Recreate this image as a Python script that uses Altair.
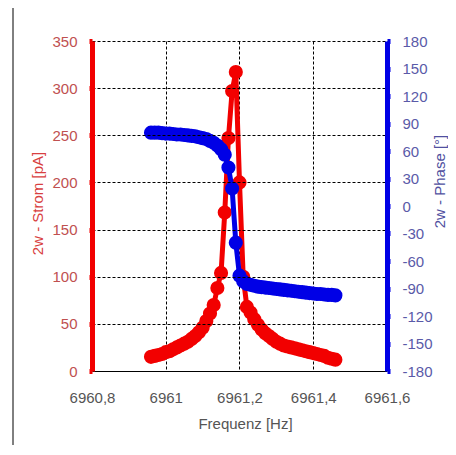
import altair as alt
import pandas as pd

freq = [6960.96, 6960.97, 6960.98, 6960.99, 6961.00, 6961.01, 6961.02, 6961.03,
        6961.04, 6961.05, 6961.06, 6961.07, 6961.08, 6961.09, 6961.10, 6961.11,
        6961.12, 6961.13, 6961.14, 6961.15, 6961.16, 6961.17, 6961.18, 6961.19,
        6961.20, 6961.21, 6961.22, 6961.23, 6961.24, 6961.25, 6961.26, 6961.27,
        6961.28, 6961.29, 6961.30, 6961.31, 6961.32, 6961.33, 6961.34, 6961.35,
        6961.36, 6961.37, 6961.38, 6961.39, 6961.40, 6961.41, 6961.42, 6961.43,
        6961.44, 6961.45, 6961.46]

strom = [15, 16, 17, 18, 20, 21, 23, 25, 27, 29, 31, 34, 37, 41, 46, 53,
         61, 70, 88, 104, 168, 247, 297, 317,
         200, 100, 68, 62, 55, 49, 44, 40, 37, 34, 31, 29, 27, 26, 25, 24,
         23, 22, 21, 20, 19, 18, 17, 16, 14, 13, 12]

phase = [80, 80, 80, 79.5, 79, 79, 78.5, 78, 78, 77.5, 77, 76.5, 76, 75, 74, 73,
         71, 69, 66, 62, 56, 42, 19, -40,
         -76, -82, -85, -86, -87, -88, -88.5, -89, -89.5, -90, -90.5, -91, -91.5,
         -92, -92.5, -93, -93.5, -94, -94.5, -95, -95.5, -96, -96, -96.5, -97,
         -97, -97.5]

x_ticks = [6960.8, 6961.0, 6961.2, 6961.4, 6961.6]
strom_ticks = [0, 50, 100, 150, 200, 250, 300, 350]
phase_ticks = [-180, -150, -120, -90, -60, -30, 0, 30, 60, 90, 120, 150, 180]

df = pd.DataFrame({"f": freq, "strom": strom, "phase": phase})

W, H = 295, 330
FONT = "Liberation Sans"
RED = "#f20000"
BLUE = "#0000e6"

x_enc = alt.X(
    "f:Q",
    scale=alt.Scale(domain=[6960.8, 6961.6], nice=False, zero=False),
    axis=alt.Axis(
        values=x_ticks,
        labelExpr="replace(format(datum.value, '.1~f'), '.', ',')",
        title="Frequenz [Hz]",
        titleFont=FONT, titleFontSize=15, titleFontWeight="normal", titleColor="#555555",
        titleX=153, titleY=52, titleAlign="center", titleBaseline="middle",
        labelFont=FONT, labelFontSize=15, labelColor="#555555", labelPadding=19,
        labelFlush=False,
        grid=True, gridDash=[3, 2], gridColor="black", gridWidth=1, gridOpacity=1,
        domainColor="black", domainWidth=1, ticks=False,
    ),
)

y_strom = alt.Y(
    "strom:Q",
    scale=alt.Scale(domain=[0, 350], nice=False, zero=True),
    axis=alt.Axis(
        orient="left", values=strom_ticks,
        title="2w - Strom [pA]",
        titleFont=FONT, titleFontSize=15, titleFontWeight="normal", titleColor="#d84040",
        titleX=-55, titleY=162, titleAngle=270, titleAlign="center", titleBaseline="middle",
        labelFont=FONT, labelFontSize=15, labelColor="#c05050", labelPadding=12,
        domainColor=RED, domainWidth=5, tickColor=RED, tickWidth=5, tickSize=3,
        grid=True, gridDash=[3, 2], gridColor="black", gridWidth=1, gridOpacity=1,
        zindex=1,
    ),
)

y_phase = alt.Y(
    "phase:Q",
    scale=alt.Scale(domain=[-180, 180], nice=False, zero=False),
    axis=alt.Axis(
        orient="right", values=phase_ticks,
        labelExpr="'' + datum.value",
        title="2w - Phase [°]",
        titleFont=FONT, titleFontSize=15, titleFontWeight="normal", titleColor="#5050a0",
        titleX=52, titleY=140, titleAngle=270, titleAlign="center", titleBaseline="middle",
        labelFont=FONT, labelFontSize=15, labelColor="#5a5aa8", labelPadding=12,
        domainColor=BLUE, domainWidth=5, tickColor=BLUE, tickWidth=5, tickSize=3,
        grid=False, zindex=1,
    ),
)

base = alt.Chart(df)
red = alt.layer(
    base.mark_line(color=RED, strokeWidth=5).encode(x=x_enc, y=y_strom),
    base.mark_circle(color=RED, size=200, opacity=1).encode(x=x_enc, y=y_strom),
)
blue = alt.layer(
    base.mark_line(color=BLUE, strokeWidth=5).encode(x=x_enc, y=y_phase),
    base.mark_circle(color=BLUE, size=200, opacity=1).encode(x=x_enc, y=y_phase),
)

frame = alt.Chart(pd.DataFrame({"k": [0]})).mark_rule(color="black", strokeWidth=1, clip=False).encode(
    x=alt.value(-79), y=alt.value(-41), y2=alt.value(404)
)

chart = alt.layer(red, blue, frame).resolve_scale(y="independent").properties(
    width=W, height=H,
    autosize=alt.AutoSizeParams(type="none"),
    padding={"left": 84, "top": 33, "right": 61, "bottom": 74},
    background="white",
).configure_view(stroke=None)

chart.save("out.html", embed_options={"renderer": "svg", "actions": False})
